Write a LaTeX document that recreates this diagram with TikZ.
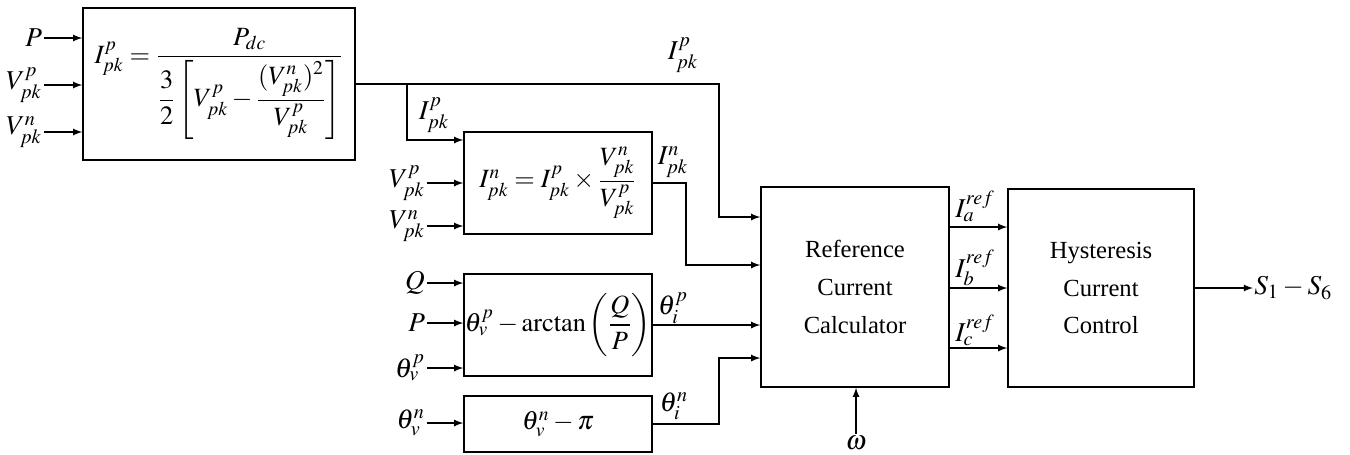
\documentclass[tikz,border=0pt]{standalone}
\usepackage{amsmath}
\usepackage{mathptmx}
\usepackage{fontspec}
\setmainfont{Liberation Serif}
\usetikzlibrary{arrows, positioning}

\begin{document}
\begin{tikzpicture}[
  font=\fontsize{14}{21.6}\selectfont,
  blk/.style={rectangle, draw, line width=0.8pt, align=center, inner sep=0pt},
  eqn/.style={blk, font=\fontsize{15}{18}\selectfont},
  sig/.style={inner sep=1pt, font=\fontsize{15.5}{18}\selectfont},
  line/.style={draw, -latex, line width=0.8pt}
]
  \useasboundingbox (0,0) rectangle (27,9.08);

  % blocks
  \node [eqn, minimum width=5.44cm, minimum height=3.04cm] (ipos) at (4.38,7.40)
    {$I_{pk}^{p}=\dfrac{P_{dc}}{\dfrac{3}{2}\left[V_{pk}^{p}-\dfrac{(V_{pk}^{n})^{2}}{V_{pk}^{p}}\right]}$};
  \node [eqn, minimum width=3.76cm, minimum height=2.04cm] (ineg) at (11.16,5.42)
    {$I_{pk}^{n}=I_{pk}^{p}\times\dfrac{V_{pk}^{n}}{V_{pk}^{p}}$};
  \node [eqn, minimum width=3.76cm, minimum height=2.04cm] (thpos) at (11.16,2.58)
    {$\theta_{v}^{p}-\arctan\left(\dfrac{Q}{P}\right)$};
  \node [eqn, minimum width=3.76cm, minimum height=1.12cm] (thneg) at (11.16,0.60)
    {$\theta_{v}^{n}-\pi$};
  \node [blk, minimum width=3.76cm, minimum height=4.00cm] (rcc) at (17.10,3.34)
    {Reference\\Current\\Calculator};
  \node [blk, minimum width=3.72cm, minimum height=3.96cm] (hcc) at (22.02,3.32)
    {Hysteresis\\Current\\Control};

  % inputs
  \node [sig, anchor=east] (inP)  at (0.88,8.32) {$P$};
  \node [sig, anchor=east] (inVp) at (0.88,7.38) {$V_{pk}^{p}$};
  \node [sig, anchor=east] (inVn) at (0.88,6.44) {$V_{pk}^{n}$};
  \node [sig, anchor=east] (nVp)  at (8.54,5.42) {$V_{pk}^{p}$};
  \node [sig, anchor=east] (nVn)  at (8.54,4.56) {$V_{pk}^{n}$};
  \node [sig, anchor=east] (tQ)   at (8.54,3.42) {$Q$};
  \node [sig, anchor=east] (tP)   at (8.54,2.62) {$P$};
  \node [sig, anchor=east] (tThp) at (8.54,1.72) {$\theta_{v}^{p}$};
  \node [sig, anchor=east] (tThn) at (8.54,0.62) {$\theta_{v}^{n}$};
  \node [sig] (om) at (17.12,0.22) {$\omega$};
  \node [sig, anchor=west, inner sep=0.5pt] (sout) at (25.06,3.32) {$S_{1}-S_{6}$};

  \foreach \s/\b in {inP/ipos, inVp/ipos, inVn/ipos, nVp/ineg, nVn/ineg,
                     tQ/thpos, tP/thpos, tThp/thpos, tThn/thneg}
    \draw [line] (\s.east) -- (\s.east -| \b.west);

  % wire labels
  \node [sig] (lIp)  at (13.66,7.98) {$I_{pk}^{p}$};
  \node [sig] (lIpb) at (8.68,6.78) {$I_{pk}^{p}$};
  \node [sig] (lIn)  at (13.46,5.84) {$I_{pk}^{n}$};
  \node [sig] (lTp)  at (13.46,2.92) {$\theta_{i}^{p}$};
  \node [sig] (lTn)  at (13.48,0.96) {$\theta_{i}^{n}$};
  \node [sig] (lIa)  at (19.50,4.96) {$I_{a}^{ref}$};
  \node [sig] (lIb)  at (19.50,3.72) {$I_{b}^{ref}$};
  \node [sig] (lIc)  at (19.50,2.48) {$I_{c}^{ref}$};

  % connections
  \coordinate (tapIp) at (8.14,7.40);
  \coordinate (bendIp) at (14.38,7.40);
  \coordinate (bendIn) at (13.72,5.42);
  \coordinate (bendTn) at (14.38,0.60);

  \draw [line] (ipos.east) -- (bendIp) |- ([yshift=1.40cm]rcc.west);
  \draw [line] (tapIp) |- ([yshift=0.86cm]ineg.west);
  \draw [line] (ineg.east) -- (bendIn) |- ([yshift=0.44cm]rcc.west);
  \draw [line] (thpos.east) -- (thpos.east -| rcc.west);
  \draw [line] (thneg.east) -- (bendTn) |- ([yshift=-1.42cm]rcc.west);
  \draw [line] (om.north) -- (om.north |- rcc.south);

  \draw [line] ([yshift=1.20cm]rcc.east) -- ([yshift=1.20cm]rcc.east -| hcc.west);
  \draw [line] (rcc.east |- hcc.east) -- (hcc.west);
  \draw [line] ([yshift=-1.22cm]rcc.east) -- ([yshift=-1.22cm]rcc.east -| hcc.west);
  \draw [line] (hcc.east) -- (sout.west);
\end{tikzpicture}
\end{document}
